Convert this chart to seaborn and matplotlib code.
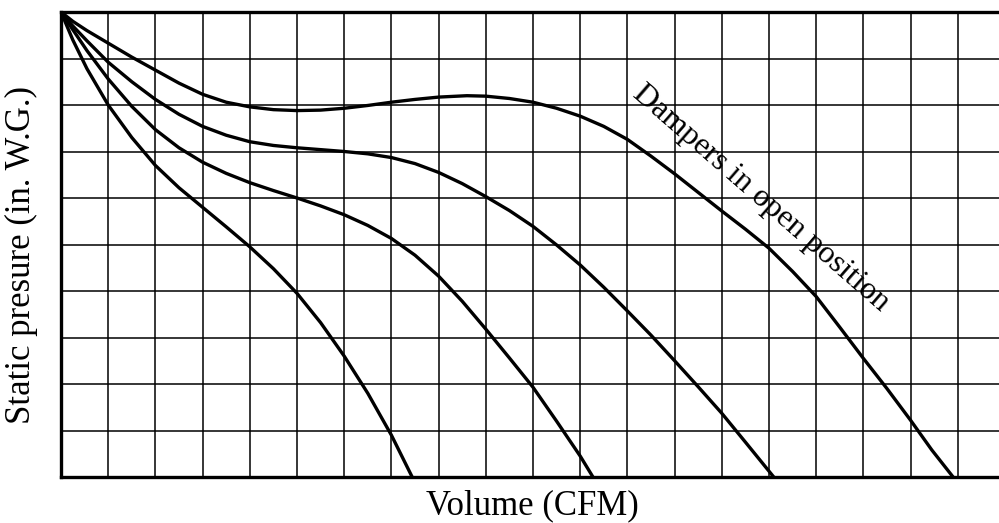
import matplotlib
matplotlib.use("Agg")
import matplotlib.pyplot as plt
import seaborn as sns
import pandas as pd

sns.set_theme(style="white")
plt.rcParams['font.family'] = ['Liberation Serif', 'DejaVu Serif']

# Curve data (grid units: x = volume, y = static pressure)
open_x = [0, 0.25, 0.55, 1, 1.5, 2, 2.5, 3, 3.5, 4, 4.5, 5, 5.5, 6, 6.5, 7, 7.5, 8,
          8.6, 9, 9.5, 10, 10.5, 11, 11.5, 12, 12.5, 13, 13.5, 14, 14.5, 15, 15.5,
          16, 16.5, 17, 17.5, 18, 18.45, 18.9]
open_y = [10, 9.8, 9.6, 9.33, 9.03, 8.75, 8.47, 8.23, 8.06, 7.96, 7.9, 7.88, 7.89,
          7.93, 7.99, 8.06, 8.12, 8.17, 8.2, 8.19, 8.14, 8.06, 7.93, 7.76, 7.54,
          7.26, 6.9, 6.52, 6.12, 5.72, 5.33, 4.92, 4.42, 3.88, 3.22, 2.55, 1.9,
          1.22, 0.58, 0]

c2_x = [0, 0.25, 0.55, 1, 1.5, 2, 2.5, 3, 3.5, 4, 4.5, 5, 5.5, 6, 6.5, 7, 7.5, 8,
        8.5, 9, 9.5, 10, 10.5, 11, 11.5, 12, 12.5, 13, 13.5, 14, 14.5, 15.1]
c2_y = [10, 9.7, 9.38, 8.92, 8.5, 8.12, 7.8, 7.54, 7.35, 7.21, 7.13, 7.08, 7.04,
        7.0, 6.95, 6.87, 6.74, 6.55, 6.31, 6.03, 5.73, 5.39, 4.99, 4.56, 4.08,
        3.57, 3.05, 2.5, 1.94, 1.37, 0.75, 0]

c3_x = [0, 0.25, 0.55, 1, 1.5, 2, 2.5, 3, 3.5, 4, 4.5, 5, 5.5, 6, 6.5, 7, 7.5, 8,
        8.5, 9, 9.5, 10, 10.5, 11, 11.27]
c3_y = [10, 9.62, 9.17, 8.56, 7.97, 7.47, 7.08, 6.77, 6.53, 6.33, 6.16, 6.0, 5.83,
        5.64, 5.41, 5.13, 4.77, 4.32, 3.78, 3.18, 2.56, 1.93, 1.2, 0.45, 0]

c4_x = [0, 0.25, 0.55, 1, 1.5, 2, 2.5, 3, 3.5, 4, 4.5, 5, 5.5, 6, 6.5, 7, 7.44]
c4_y = [10, 9.4, 8.78, 8.0, 7.3, 6.7, 6.22, 5.8, 5.38, 4.95, 4.48, 3.95, 3.32, 2.6,
        1.8, 0.9, 0]

x_label = "Volume (CFM)"
y_label = "Static presure (in. W.G.)"
annotation = "Dampers in open position"

fig = plt.figure(figsize=(9.99, 5.23), dpi=100)
ax = fig.add_axes([61/999, (523-477)/523, (999-61)/999, (477-12)/523])

for xs, ys in [(open_x, open_y), (c2_x, c2_y), (c3_x, c3_y), (c4_x, c4_y)]:
    df = pd.DataFrame({"x": xs, "y": ys})
    sns.lineplot(data=df, x="x", y="y", sort=False, estimator=None,
                 color="black", linewidth=2.4, ax=ax, zorder=3)

ax.set_xlim(0, (999-61)/47.2)
ax.set_ylim(0, 10)
ax.set_xticks(range(0, 20))
ax.set_yticks(range(0, 11))
ax.tick_params(length=0, labelbottom=False, labelleft=False)
ax.grid(True, color="black", linewidth=1.1)
for side in ["left", "bottom", "top"]:
    ax.spines[side].set_visible(True)
    ax.spines[side].set_color("black")
    ax.spines[side].set_linewidth(2.4)
ax.spines["right"].set_visible(False)

ax.set_xlabel(x_label, fontsize=25, color="black")
ax.set_ylabel(y_label, fontsize=25, color="black")
ax.xaxis.label.set_va("center")
ax.yaxis.label.set_va("center")
ax.xaxis.set_label_coords(0.5027, -0.0624)
ax.yaxis.set_label_coords(-0.0426, 0.477)

ax.text(14.83, 6.0, annotation, rotation=-41, ha="center", va="center",
        fontsize=23, color="black", zorder=4)

fig.savefig("out.png", dpi=100)
